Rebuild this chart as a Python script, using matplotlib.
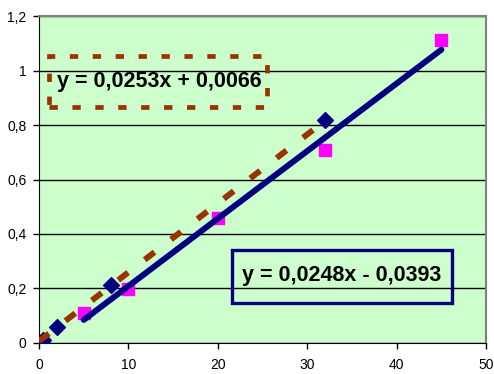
import matplotlib.pyplot as plt
import numpy as np
from matplotlib.patches import Rectangle

# series
x_blue = [0.5, 2, 8, 32]
y_blue = [0.01, 0.06, 0.213, 0.818]
x_pink = [5, 10, 20, 32, 45]
y_pink = [0.111, 0.198, 0.458, 0.707, 1.111]

# trendline coefficients as shown in the labels
fit_blue = (0.0253, 0.0066)
fit_pink = (0.0248, -0.0393)
label_blue = "y = 0,0253x + 0,0066"
label_pink = "y = 0,0248x - 0,0393"

x_ticks = [0, 10, 20, 30, 40, 50]
y_ticks = [0, 0.2, 0.4, 0.6, 0.8, 1.0, 1.2]
y_tick_labels = ["0", "0,2", "0,4", "0,6", "0,8", "1", "1,2"]

plt.rcParams["font.family"] = ["Liberation Sans", "DejaVu Sans"]
plt.rcParams["lines.scale_dashes"] = False

fig = plt.figure(figsize=(4.94, 3.74), dpi=100)
ax = fig.add_axes([0.079, 0.083, 0.905, 0.874])
ax.set_facecolor("#CCFFCC")

ax.set_xlim(0, 50)
ax.set_ylim(0, 1.2)
ax.set_xticks(x_ticks)
ax.set_yticks(y_ticks)
ax.set_yticklabels(y_tick_labels)
ax.tick_params(labelsize=10, length=4, width=1, colors="black")
ax.tick_params(axis="x", pad=7)
ax.tick_params(axis="y", pad=5)
ax.yaxis.grid(True, color="black", linewidth=1)
ax.set_axisbelow(True)

for side in ("top", "right"):
    ax.spines[side].set_color("#808080")
    ax.spines[side].set_linewidth(1.5)
for side in ("left", "bottom"):
    ax.spines[side].set_color("black")

ax.scatter(x_blue, y_blue, marker="D", s=65, color="#000080", zorder=3)
ax.scatter(x_pink, y_pink, marker="s", s=85, color="#FF00FF", zorder=3)

xb = np.array([0, max(x_blue)])
ax.plot(xb, fit_blue[0] * xb + fit_blue[1], color="#993300",
        linewidth=4.3, dashes=(9, 15), dash_capstyle="butt", zorder=4)

xp = np.array([min(x_pink), max(x_pink)])
ax.plot(xp, fit_pink[0] * xp + fit_pink[1], color="#000080",
        linewidth=4.3, solid_capstyle="round", zorder=4)

# equation labels with their frames
ax.add_patch(Rectangle((0.022, 0.722), 0.488, 0.156, transform=ax.transAxes,
                       fill=False, edgecolor="#993300", linewidth=3.4,
                       linestyle=(0, (6, 10.5)), zorder=5))
ax.text(0.040, 0.800, label_blue, transform=ax.transAxes, fontsize=15.5,
        fontweight="bold", va="center", ha="left", zorder=6)

ax.add_patch(Rectangle((0.432, 0.122), 0.492, 0.162, transform=ax.transAxes,
                       fill=False, edgecolor="#000080", linewidth=2.4,
                       zorder=5))
ax.text(0.454, 0.207, label_pink, transform=ax.transAxes, fontsize=15.5,
        fontweight="bold", va="center", ha="left", zorder=6)

fig.savefig("out.png", dpi=100)
plt.close(fig)
